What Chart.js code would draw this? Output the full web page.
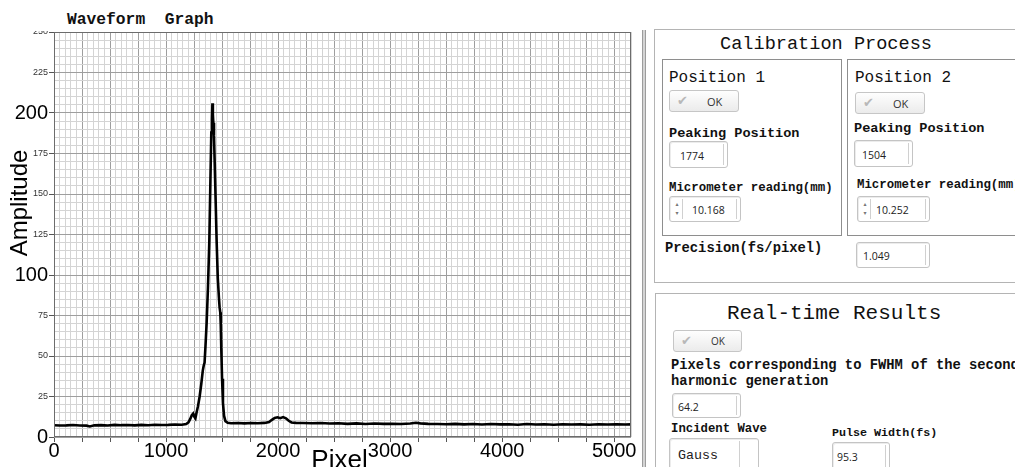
<!DOCTYPE html>
<html>
<head>
<meta charset="utf-8">
<title>Waveform Graph</title>
<script src="https://cdn.jsdelivr.net/npm/chart.js@4.4.1/dist/chart.umd.min.js"></script>
<style>
  html, body { margin:0; padding:0; background:#fff; width:1015px; height:467px; overflow:hidden; position:relative; }
  .t { position:absolute; white-space:pre; font-family:"Liberation Mono","DejaVu Sans Mono",monospace; color:#111; line-height:1; }
  .b { font-weight:bold; }
  .box { position:absolute; box-sizing:border-box; border:1px solid #b4b4b4; }
  .inner { border-color:#8e8e8e; }
  .btn { position:absolute; box-sizing:border-box; border:1px solid #c6c6c6; border-radius:3px;
         background:linear-gradient(#fefefe,#ebebeb); font-family:"Open Sans","Noto Sans",sans-serif; font-size:11px; color:#333; }
  .btn .ck { position:absolute; left:7px; top:2px; font-family:"DejaVu Sans",sans-serif; font-size:13px; color:#b8b8b8; }
  .btn .ok { position:absolute; left:37px; top:3px; }
  .num { position:absolute; box-sizing:border-box; border:1px solid #c4c4c4; border-radius:3px; background:#fff;
         box-shadow: inset 1px 1px 0 #ececec; font-family:"Open Sans","Noto Sans",sans-serif; font-size:10.5px; color:#222; }
  .num .v { position:absolute; top:50%; transform:translateY(-46%); }
  .num .sep { position:absolute; right:3px; top:2px; bottom:2px; border-left:1px solid #d0d0d0; }
  .num .spin { position:absolute; left:2px; top:2px; bottom:2px; width:10px; border-right:1px solid #d0d0d0;
               font-family:"DejaVu Sans",sans-serif; font-size:6px; color:#777; line-height:9px; text-align:center; }
  .divider { position:absolute; left:642px; top:30px; width:4px; height:437px; box-sizing:border-box;
             background:#d4d4d4; border-left:1px solid #9c9c9c; border-right:1px solid #9c9c9c; }
</style>
</head>
<body>

<div class="t b" style="left:67px; top:11.5px; font-size:16.3px;">Waveform  Graph</div>

<div style="position:absolute; left:0; top:31px; width:640px; height:436px;">
  <canvas id="chart" width="640" height="436"></canvas>
</div>

<div class="divider"></div>

<!-- Calibration panel -->
<div class="box" style="left:654px; top:29px; width:400px; height:254px;"></div>
<div class="t" style="left:720px; top:35.7px; font-size:18.6px;">Calibration Process</div>

<div class="box inner" style="left:662px; top:59px; width:180px; height:177px;"></div>
<div class="box inner" style="left:847px; top:59px; width:200px; height:177px;"></div>

<div class="t" style="left:669px; top:69.7px; font-size:16px;">Position 1</div>
<div class="t" style="left:855px; top:69.7px; font-size:16px;">Position 2</div>

<div class="btn" style="left:669px; top:90px; width:70px; height:22px;"><span class="ck">✔</span><span class="ok">OK</span></div>
<div class="btn" style="left:855px; top:92px; width:70px; height:22px;"><span class="ck">✔</span><span class="ok">OK</span></div>

<div class="t b" style="left:669px; top:126.6px; font-size:13.6px;">Peaking Position</div>
<div class="t b" style="left:854px; top:121.6px; font-size:13.6px;">Peaking Position</div>

<div class="num" style="left:669px; top:141px; width:59px; height:27px;"><span class="v" style="left:10px;">1774</span><span class="sep"></span></div>
<div class="num" style="left:854px; top:140px; width:59px; height:27px;"><span class="v" style="left:7px;">1504</span><span class="sep"></span></div>

<div class="t b" style="left:669px; top:181.5px; font-size:12.4px;">Micrometer reading(mm)</div>
<div class="t b" style="left:857px; top:178.5px; font-size:12.4px;">Micrometer reading(mm)</div>

<div class="num" style="left:669px; top:196px; width:72px; height:26px;"><span class="spin">▴<br>▾</span><span class="v" style="left:22px;">10.168</span><span class="sep"></span></div>
<div class="num" style="left:857px; top:196px; width:73px; height:26px;"><span class="spin">▴<br>▾</span><span class="v" style="left:18px;">10.252</span><span class="sep"></span></div>

<div class="t b" style="left:665px; top:242.4px; font-size:13.8px;">Precision(fs/pixel)</div>
<div class="num" style="left:856px; top:242px; width:74px; height:26px;"><span class="v" style="left:6px;">1.049</span><span class="sep"></span></div>

<!-- Real-time panel -->
<div class="box" style="left:655px; top:293px; width:400px; height:200px;"></div>
<div class="t" style="left:727px; top:302.9px; font-size:21px;">Real-time Results</div>

<div class="btn" style="left:673px; top:330px; width:69px; height:22px;"><span class="ck">✔</span><span class="ok" style="font-size:10px;">OK</span></div>

<div class="t b" style="left:671px; top:359.4px; font-size:13.8px;">Pixels corresponding to FWHM of the second</div>
<div class="t b" style="left:671px; top:375.4px; font-size:13.8px;">harmonic generation</div>

<div class="num" style="left:672px; top:393px; width:69px; height:25px;"><span class="v" style="left:5px;">64.2</span><span class="sep"></span></div>

<div class="t b" style="left:671px; top:422.6px; font-size:12.3px;">Incident Wave</div>
<div class="t b" style="left:832px; top:428px; font-size:11.7px;">Pulse Width(fs)</div>

<div class="num" style="left:669px; top:438px; width:90px; height:32px;"><span class="t" style="left:8px; top:10px; font-size:13.3px; color:#222;">Gauss</span><span class="sep" style="right:18px;"></span></div>
<div class="num" style="left:832px; top:442px; width:58px; height:28px;"><span class="v" style="left:4px;">95.3</span><span class="sep"></span></div>

<script>
// ---------- DATA ----------
const pixel = [
  0, 50, 110, 170, 230, 290, 320, 360, 420, 480, 540, 600, 660, 720, 780, 840, 900, 960, 1020, 1080, 1140, 1180,
  1200, 1215, 1230, 1242, 1252, 1262, 1272, 1285, 1300, 1315, 1328, 1336, 1344, 1352, 1362, 1374, 1386, 1396,
  1404, 1410, 1414, 1418, 1422, 1428, 1434, 1442, 1452, 1462, 1472, 1478, 1484, 1488, 1493, 1500, 1508, 1518,
  1530, 1550, 1580, 1640, 1700, 1760, 1820, 1880, 1920, 1945, 1970, 1995, 2020, 2045, 2070, 2095, 2120, 2160,
  2220, 2300, 2380, 2460, 2540, 2620, 2700, 2780, 2860, 2940, 3020, 3100, 3180, 3230, 3270, 3340, 3420, 3500,
  3580, 3660, 3740, 3820, 3900, 3980, 4060, 4140, 4220, 4300, 4380, 4460, 4540, 4620, 4700, 4780, 4860, 4940,
  5020, 5100, 5150
];
const amplitude = [
  7.3, 7.1, 7.2, 7.4, 7.1, 7.0, 6.5, 7.2, 7.3, 7.1, 7.5, 7.3, 7.4, 7.2, 7.5, 7.3, 7.6, 7.4, 7.5, 7.7, 7.6, 8.0,
  9.0, 11.0, 13.5, 14.5, 12.5, 11.5, 15.0, 19.0, 25.0, 33.0, 41.0, 44.0, 46.0, 56.0, 70.0, 92.0, 120.0, 158.0,
  188.0, 196.0, 206.0, 199.0, 194.0, 186.0, 170.0, 148.0, 120.0, 98.0, 86.0, 80.0, 77.0, 70.0, 55.0, 36.0, 21.0, 13.0,
  9.8, 8.8, 8.5, 8.6, 8.4, 8.6, 8.5, 8.7, 9.2, 10.6, 11.8, 12.2, 11.6, 12.3, 11.5, 10.0, 9.0, 8.7,
  8.6, 8.5, 8.6, 8.3, 8.5, 8.1, 8.4, 8.0, 8.3, 8.1, 8.2, 8.0, 8.3, 8.8, 8.4, 8.1, 8.0, 7.9,
  8.1, 7.8, 8.0, 7.7, 8.0, 7.8, 7.9, 7.6, 8.0, 7.7, 7.9, 7.6, 7.9, 7.7, 7.8, 7.6, 7.9, 7.7,
  7.8, 7.7, 7.8
];

const xTitle = 'Pixel';
const yTitle = 'Amplitude';
const xMax = 5150;
const yMax = 250;

// grid ticks: minor every 50 / 5, major every 250 / 25
const xTicks = [];
for (let v = 0; v <= xMax; v += 50) xTicks.push(v);
const yTicks = [];
for (let v = 0; v <= yMax; v += 5) yTicks.push(v);

const majorGrid = '#9e9e9e';
const minorGrid = '#d4d4d4';
const labelFont = '"Liberation Sans", Arial, sans-serif';

// ---------- FRAME + AXIS TITLES ----------
const frameAndTitles = {
  id: 'frameAndTitles',
  afterDraw(chart) {
    const { ctx, chartArea: a } = chart;
    ctx.save();
    ctx.strokeStyle = '#6c6c6c';
    ctx.lineWidth = 1;
    ctx.strokeRect(Math.round(a.left) + 0.5, Math.round(a.top) + 0.5,
                   Math.round(a.right - a.left) - 1, Math.round(a.bottom - a.top) - 1);

    ctx.fillStyle = '#000';
    ctx.textAlign = 'center';
    ctx.textBaseline = 'alphabetic';
    ctx.font = '26px ' + labelFont;
    ctx.fillText(xTitle, (a.left + a.right) / 2 - 3, a.bottom + 31);

    ctx.font = '24px ' + labelFont;
    ctx.translate(a.left - 27, a.top + 171);
    ctx.rotate(-Math.PI / 2);
    ctx.fillText(yTitle, 0, 0);
    ctx.restore();
  }
};

// ---------- CHART ----------
const ctx = document.getElementById('chart');
const chart = new Chart(ctx, {
  type: 'line',
  data: {
    datasets: [{
      data: pixel.map((p, i) => ({ x: p, y: amplitude[i] })),
      borderColor: '#000',
      borderWidth: 2.6,
      pointRadius: 0,
      tension: 0,
      fill: false
    }]
  },
  options: {
    responsive: false,
    animation: false,
    layout: { padding: { left: 0, right: 9, top: 1, bottom: 0 } },
    plugins: {
      legend: { display: false },
      tooltip: { enabled: false }
    },
    scales: {
      x: {
        type: 'linear',
        min: 0,
        max: xMax,
        afterBuildTicks: s => { s.ticks = xTicks.map(v => ({ value: v })); },
        afterFit: s => { s.height = 30; s.paddingLeft = 0; s.paddingRight = 0; },
        grid: {
          color: c => (c.tick && c.tick.value % 250 === 0) ? majorGrid : minorGrid,
          tickColor: c => (c.tick && c.tick.value % 250 === 0) ? '#555' : 'rgba(0,0,0,0)',
          tickLength: 5,
          lineWidth: 1
        },
        border: { display: false },
        ticks: {
          autoSkip: false,
          maxRotation: 0,
          minRotation: 0,
          padding: -1,
          color: '#000',
          font: { family: labelFont, size: 20, lineHeight: 1 },
          callback: v => (v % 1000 === 0 ? String(v) : '')
        }
      },
      y: {
        min: 0,
        max: yMax,
        afterBuildTicks: s => { s.ticks = yTicks.map(v => ({ value: v })); },
        afterFit: s => { s.width = 54; s.paddingTop = 0; s.paddingBottom = 0; },
        grid: {
          color: c => (c.tick && c.tick.value % 25 === 0) ? majorGrid : minorGrid,
          tickColor: c => (c.tick && c.tick.value % 25 === 0) ? '#555' : 'rgba(0,0,0,0)',
          tickLength: 5,
          lineWidth: 1
        },
        border: { display: false },
        ticks: {
          autoSkip: false,
          padding: 1,
          color: c => (c.tick && c.tick.value % 100 === 0) ? '#000' : '#333',
          font: c => ({ family: labelFont, size: (c.tick && c.tick.value % 100 === 0) ? 20 : 9, lineHeight: 1 }),
          callback: v => (v % 25 === 0 ? String(v) : '')
        }
      }
    }
  },
  plugins: [frameAndTitles]
});
</script>
</body>
</html>
